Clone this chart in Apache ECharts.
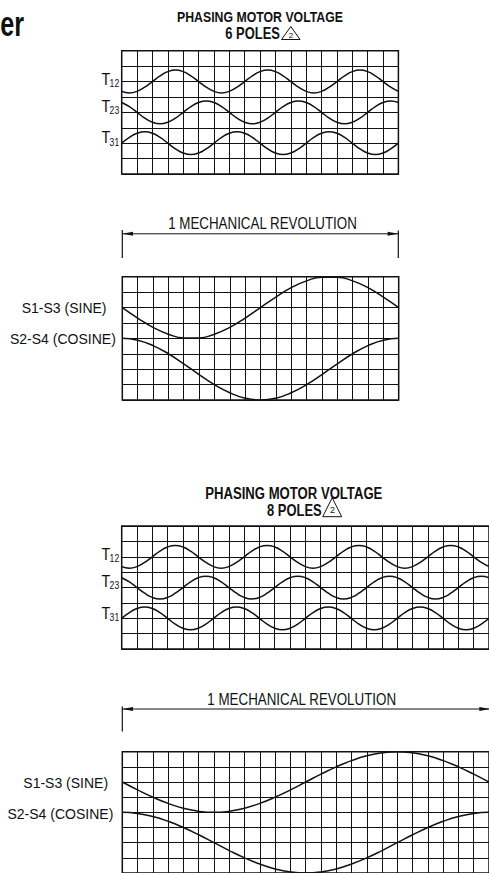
<!DOCTYPE html>
<html>
<head>
<meta charset="utf-8">
<script src="https://cdn.jsdelivr.net/npm/echarts@6/dist/echarts.min.js"></script>
<style>
html,body{margin:0;padding:0;background:#fff;}
#chart{width:489px;height:873px;}
</style>
</head>
<body>
<div id="chart"></div>
<script>
// ---- data (grid cells; y = rows counted from the top of each grid) ----
const halfCells6 = [0,0.5,1,1.5,2,2.5,3,3.5,4,4.5,5,5.5,6,6.5,7,7.5,8,8.5,9,9.5,10,10.5,11,11.5,12,12.5,13,13.5,14,14.5,15,15.5,16,16.5,17,17.5,18];
const halfCells8 = [0,0.5,1,1.5,2,2.5,3,3.5,4,4.5,5,5.5,6,6.5,7,7.5,8,8.5,9,9.5,10,10.5,11,11.5,12,12.5,13,13.5,14,14.5,15,15.5,16,16.5,17,17.5,18,18.5,19,19.5,20,20.5,21,21.5,22,22.5,23,23.5,24];
const cells6 = [0,1,2,3,4,5,6,7,8,9,10,11,12,13,14,15,16,17,18];
const cells8 = [0,1,2,3,4,5,6,7,8,9,10,11,12,13,14,15,16,17,18,19,20,21,22,23,24];

const t12_6 = [2.64,2.74,2.64,2.37,2.00,1.63,1.36,1.26,1.36,1.63,2.00,2.37,2.64,2.74,2.64,2.37,2.00,1.63,1.36,1.26,1.36,1.63,2.00,2.37,2.64,2.74,2.64,2.37,2.00,1.63,1.36,1.26,1.36,1.63,2.00,2.37,2.64];
const t23_6 = [3.36,3.63,4.00,4.37,4.64,4.74,4.64,4.37,4.00,3.63,3.36,3.26,3.36,3.63,4.00,4.37,4.64,4.74,4.64,4.37,4.00,3.63,3.36,3.26,3.36,3.63,4.00,4.37,4.64,4.74,4.64,4.37,4.00,3.63,3.36,3.26,3.36];
const t31_6 = [6.00,5.63,5.36,5.26,5.36,5.63,6.00,6.37,6.64,6.74,6.64,6.37,6.00,5.63,5.36,5.26,5.36,5.63,6.00,6.37,6.64,6.74,6.64,6.37,6.00,5.63,5.36,5.26,5.36,5.63,6.00,6.37,6.64,6.74,6.64,6.37,6.00];

const t12_8 = [2.64,2.74,2.64,2.37,2.00,1.63,1.36,1.26,1.36,1.63,2.00,2.37,2.64,2.74,2.64,2.37,2.00,1.63,1.36,1.26,1.36,1.63,2.00,2.37,2.64,2.74,2.64,2.37,2.00,1.63,1.36,1.26,1.36,1.63,2.00,2.37,2.64,2.74,2.64,2.37,2.00,1.63,1.36,1.26,1.36,1.63,2.00,2.37,2.64];
const t23_8 = [3.36,3.63,4.00,4.37,4.64,4.74,4.64,4.37,4.00,3.63,3.36,3.26,3.36,3.63,4.00,4.37,4.64,4.74,4.64,4.37,4.00,3.63,3.36,3.26,3.36,3.63,4.00,4.37,4.64,4.74,4.64,4.37,4.00,3.63,3.36,3.26,3.36,3.63,4.00,4.37,4.64,4.74,4.64,4.37,4.00,3.63,3.36,3.26,3.36];
const t31_8 = [6.00,5.63,5.36,5.26,5.36,5.63,6.00,6.37,6.64,6.74,6.64,6.37,6.00,5.63,5.36,5.26,5.36,5.63,6.00,6.37,6.64,6.74,6.64,6.37,6.00,5.63,5.36,5.26,5.36,5.63,6.00,6.37,6.64,6.74,6.64,6.37,6.00,5.63,5.36,5.26,5.36,5.63,6.00,6.37,6.64,6.74,6.64,6.37,6.00];

const sine6   = [2.00,2.68,3.29,3.73,3.97,3.97,3.73,3.29,2.68,2.00,1.32,0.71,0.27,0.03,0.03,0.27,0.71,1.32,2.00];
const cosine6 = [4.00,4.12,4.47,5.00,5.65,6.35,7.00,7.53,7.88,8.00,7.88,7.53,7.00,6.35,5.65,5.00,4.47,4.12,4.00];
const sine8   = [2.00,2.52,3.00,3.41,3.73,3.93,4.00,3.93,3.73,3.41,3.00,2.52,2.00,1.48,1.00,0.59,0.27,0.07,0.00,0.07,0.27,0.59,1.00,1.48,2.00];
const cosine8 = [4.00,4.07,4.27,4.59,5.00,5.48,6.00,6.52,7.00,7.41,7.73,7.93,8.00,7.93,7.73,7.41,7.00,6.52,6.00,5.48,5.00,4.59,4.27,4.07,4.00];

const texts = {
  corner: 'er',
  title: 'PHASING MOTOR VOLTAGE',
  poles6: '6 POLES',
  poles8: '8 POLES',
  note: '2',
  revolution: '1 MECHANICAL REVOLUTION',
  sine: 'S1-S3 (SINE)',
  cosine: 'S2-S4 (COSINE)'
};
const tLabels = [['T','12'],['T','23'],['T','31']];

// ---- chart ----
const FONT = "'Liberation Sans',Arial,sans-serif";
const NARROW = 0.82;   // horizontal squeeze to mimic a condensed face
const INK = '#111';
const chart = echarts.init(document.getElementById('chart'), null, {renderer:'svg'});

const grids = [
  {left:121.7, top:50.7,  width:276.7, height:123.3},
  {left:122.3, top:276.7, width:276.4, height:123.3},
  {left:121.7, top:526,   width:368.9, height:123.1},
  {left:122.3, top:751.7, width:368.9, height:123.3}
];
const xMax = [18,18,24,24];

function pairs(xs, ys){ return xs.map((x,i)=>[x, ys[i]]); }
function lineSeries(idx, xs, ys){
  return {type:'line', xAxisIndex:idx, yAxisIndex:idx, data:pairs(xs, ys), smooth:true,
    showSymbol:false, silent:true, lineStyle:{color:INK, width:1.5}};
}

const gfx = [];
function txt(text, x, y, font, align, sx){
  gfx.push({type:'text', silent:true, x, y, scaleX: sx == null ? NARROW : sx,
    style:{text, x:0, y:0, font, fill:INK, textAlign:align||'left', textVerticalAlign:'middle'}});
}
function seg(x1,y1,x2,y2,w){
  gfx.push({type:'line', silent:true, shape:{x1,y1,x2,y2}, style:{stroke:INK, lineWidth:w||1}});
}
function tri(points, fill){
  gfx.push({type:'polygon', silent:true, shape:{points}, style:fill ? {fill:INK} : {fill:'none', stroke:INK, lineWidth:1}});
}

txt(texts.corner, 24, 23.5, 'bold 35px '+FONT, 'right', 0.72);

// top titles
txt(texts.title, 260, 17.2, 'bold 15px '+FONT, 'center');
txt(texts.poles6, 280, 33.8, 'bold 15.8px '+FONT, 'right');
tri([[281.5,39.5],[300,39.5],[290.8,26.5]]);
txt(texts.note, 291, 35.3, '8px '+FONT, 'center', 1);

// T labels (6 poles)
const tRows = [[78.8,83],[105.8,110.3],[137.5,142.2]];
function tLabelSet(dy){
  tRows.forEach((p,i)=>{
    txt(tLabels[i][0], 101.5, p[0]+dy, '16px '+FONT, 'left', 0.9);
    txt(tLabels[i][1], 109.6, p[1]+dy, '10.5px '+FONT, 'left');
  });
}
tLabelSet(0);

// revolution arrow (6 poles)
txt(texts.revolution, 262.5, 224, '16.3px '+FONT, 'center');
seg(122.3,233.8,398.3,233.8,1);
seg(122.3,230,122.3,258,1.2);
seg(398.3,230.5,398.3,258,1.2);
tri([[122.3,233.8],[133,231.8],[133,235.8]], true);
tri([[398.3,233.8],[387.6,231.8],[387.6,235.8]], true);

txt(texts.sine, 21.7, 307.5, '14px '+FONT, 'left', 1);
txt(texts.cosine, 10, 338.6, '14px '+FONT, 'left', 1);

// bottom titles
txt(texts.title, 293.8, 493.3, 'bold 16px '+FONT, 'center');
txt(texts.poles8, 321.7, 510.8, 'bold 15.8px '+FONT, 'right');
tri([[322.7,516.7],[341.7,516.7],[332.2,497.7]]);
txt(texts.note, 332.5, 510.3, '9px '+FONT, 'center', 1);

tLabelSet(475.3);

txt(texts.revolution, 301.7, 699.2, '16.3px '+FONT, 'center');
seg(122.3,709,490,709,1);
seg(122.3,706.5,122.3,731.5,1.2);
seg(490.5,706.5,490.5,731.5,1.2);
tri([[122.3,709],[133,707],[133,711]], true);
tri([[490,709],[479.3,707],[479.3,711]], true);

txt(texts.sine, 23.3, 782.5, '14px '+FONT, 'left', 1);
txt(texts.cosine, 7.5, 813.8, '14px '+FONT, 'left', 1);

const option = {
  animation:false,
  backgroundColor:'#fff',
  grid: grids.map(g=>Object.assign({show:true, borderColor:INK, borderWidth:1.5, containLabel:false}, g)),
  xAxis: grids.map((g,i)=>({gridIndex:i, type:'value', min:0, max:xMax[i], interval:1,
    axisLine:{show:false}, axisTick:{show:false}, axisLabel:{show:false},
    splitLine:{show:true, lineStyle:{color:INK, width:1}}})),
  yAxis: grids.map((g,i)=>({gridIndex:i, type:'value', min:0, max:8, interval:1, inverse:true,
    axisLine:{show:false}, axisTick:{show:false}, axisLabel:{show:false},
    splitLine:{show:true, lineStyle:{color:INK, width:1}}})),
  series: [
    lineSeries(0, halfCells6, t12_6),
    lineSeries(0, halfCells6, t23_6),
    lineSeries(0, halfCells6, t31_6),
    lineSeries(1, cells6, sine6),
    lineSeries(1, cells6, cosine6),
    lineSeries(2, halfCells8, t12_8),
    lineSeries(2, halfCells8, t23_8),
    lineSeries(2, halfCells8, t31_8),
    lineSeries(3, cells8, sine8),
    lineSeries(3, cells8, cosine8)
  ],
  graphic: gfx
};
chart.setOption(option);
</script>
</body>
</html>
